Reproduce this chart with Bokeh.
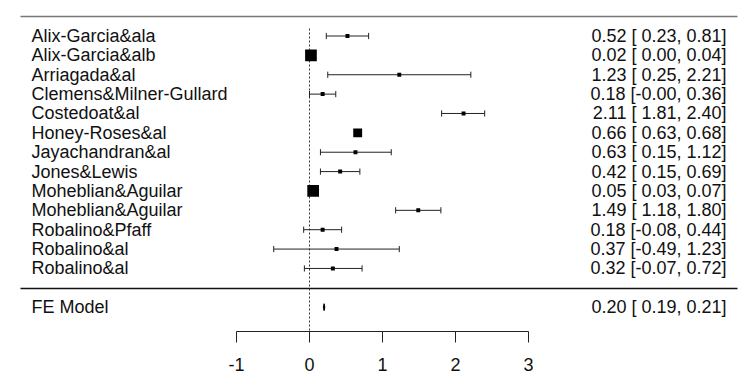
from bokeh.plotting import figure
from bokeh.models import Range1d, FixedTicker, ColumnDataSource
from bokeh.core.properties import value
from bokeh.embed import file_html
from bokeh.resources import INLINE

studies = ["Alix-Garcia&ala", "Alix-Garcia&alb", "Arriagada&al", "Clemens&Milner-Gullard",
           "Costedoat&al", "Honey-Roses&al", "Jayachandran&al", "Jones&Lewis",
           "Moheblian&Aguilar", "Moheblian&Aguilar", "Robalino&Pfaff", "Robalino&al", "Robalino&al"]
estimates = [0.52, 0.02, 1.23, 0.18, 2.11, 0.66, 0.63, 0.42, 0.05, 1.49, 0.18, 0.37, 0.32]
lower = [0.23, 0.00, 0.25, -0.00, 1.81, 0.63, 0.15, 0.15, 0.03, 1.18, -0.08, -0.49, -0.07]
upper = [0.81, 0.04, 2.21, 0.36, 2.40, 0.68, 1.12, 0.69, 0.07, 1.80, 0.44, 1.23, 0.72]
fe_label = "FE Model"
fe_est, fe_lower, fe_upper = 0.20, 0.19, 0.21
x_ticks = [-1, 0, 1, 2, 3]
x_tick_labels = ["-1", "0", "1", "2", "3"]

FONT = value("Liberation Sans")
FS = "18px"
W, H = 748, 378
PX = 73.0      # pixels per unit
ZERO = 309.0   # canvas x of 0
ROW0 = 35.5    # canvas y of first row
DY = 19.37     # row spacing
AXIS_Y = 331.0

rows = list(range(len(studies)))
fe_row = 14

# marker sizes from inverse-variance weights (metafor style)
w = [1.0 / (((u - l) / 3.92) ** 2 + 1e-12) for l, u in zip(lower, upper)]
wmin, wmax = min(w), max(w)
psize = [0.5 + (wi - wmin) / (wmax - wmin) for wi in w]
sizes = [7.8 * s for s in psize]

def fmt(e, l, u):
    return "%.2f [%5.2f, %.2f]" % (e, l, u)

right_labels = [fmt(e, l, u) for e, l, u in zip(estimates, lower, upper)]

def ry(py):
    return (py - ROW0) / DY

def rx(px):
    return (px - ZERO) / PX

p = figure(width=W, height=H, output_backend="svg", toolbar_location=None,
           x_range=Range1d(rx(0), rx(W)),
           y_range=Range1d(ry(AXIS_Y), ry(0)),
           min_border_left=0, min_border_right=0, min_border_top=0,
           min_border_bottom=int(H - AXIS_Y),
           y_axis_location=None)
p.outline_line_color = None
p.grid.visible = False
p.background_fill_color = "white"
p.border_fill_color = "white"

ax = p.xaxis[0]
ax.ticker = FixedTicker(ticks=x_ticks)
ax.major_label_overrides = {t: s for t, s in zip(x_ticks, x_tick_labels)}
ax.bounds = (min(x_ticks), max(x_ticks))
ax.major_tick_in = 0
ax.major_tick_out = 11
ax.minor_tick_line_color = None
ax.axis_line_color = "#222222"
ax.major_tick_line_color = "#222222"
ax.major_label_text_font = "Liberation Sans"
ax.major_label_text_font_size = FS
ax.major_label_text_color = "#111111"
ax.major_label_standoff = 15

# frame lines
x_left = rx(20)
x_right = rx(737)
p.segment(x0=[x_left], y0=[ry(16)], x1=[x_right], y1=[ry(16)], line_color="#777777", line_width=1.5)
p.segment(x0=[x_left], y0=[ry(288)], x1=[x_right], y1=[ry(288)], line_color="#111111", line_width=1.3)
p.segment(x0=[0], y0=[ry(28)], x1=[0], y1=[ry(AXIS_Y)], line_color="#333333", line_width=1,
          line_dash="2 2")

cap = 0.16
src = ColumnDataSource(dict(study=studies, est=estimates, lo=lower, hi=upper, row=rows,
                            rlo=[r - cap for r in rows], rhi=[r + cap for r in rows],
                            size=sizes, lab=right_labels))
p.segment(x0="lo", y0="row", x1="hi", y1="row", source=src, line_color="#222222", line_width=1)
p.segment(x0="lo", y0="rlo", x1="lo", y1="rhi", source=src, line_color="#222222", line_width=1)
p.segment(x0="hi", y0="rlo", x1="hi", y1="rhi", source=src, line_color="#222222", line_width=1)
p.scatter(x="est", y="row", size="size", marker="square", source=src,
          fill_color="black", line_color="black", line_width=0)

# FE diamond
p.patch(x=[fe_lower, fe_est, fe_upper, fe_est], y=[fe_row, fe_row - 0.18, fe_row, fe_row + 0.18],
        fill_color="black", line_color="black", line_width=1)

label_x = rx(31)
right_x = rx(726)
p.text(x=label_x, y="row", text="study", source=src, text_font=FONT, text_font_size=FS,
       text_baseline="middle", text_align="left", text_color="#111111")
p.text(x=right_x, y="row", text="lab", source=src, text_font=FONT, text_font_size=FS,
       text_baseline="middle", text_align="right", text_color="#111111")
p.text(x=[label_x], y=[fe_row], text=[fe_label], text_font=FONT, text_font_size=FS,
       text_baseline="middle", text_align="left", text_color="#111111")
p.text(x=[right_x], y=[fe_row], text=[fmt(fe_est, fe_lower, fe_upper)], text_font=FONT,
       text_font_size=FS, text_baseline="middle", text_align="right", text_color="#111111")

open("out.html", "w").write(file_html(p, INLINE))
